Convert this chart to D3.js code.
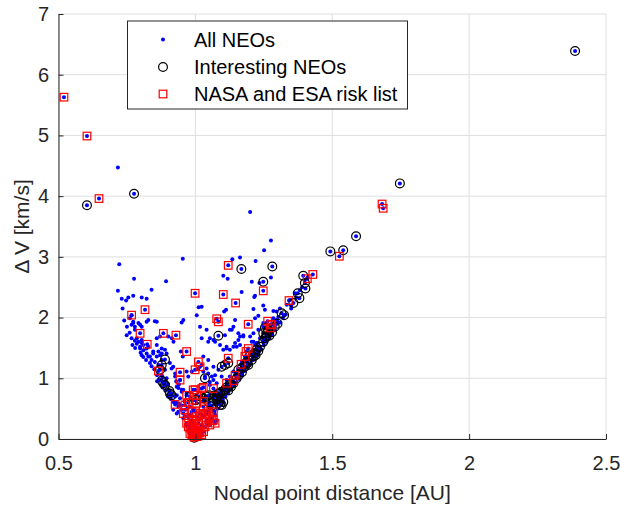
<!doctype html>
<html>
  <head>
    <title>NEO nodal distance</title>
    <script src="https://d3js.org/d3.v7.min.js"></script>
    <style>
        body {
            margin: 0;
            padding: 0;
            background: #ffffff;
        }
        svg {
            font-family: "Liberation Sans", Arial, Helvetica, sans-serif;
        }
        .tick text {
            fill: #262626;
            font-size: 20px;
        }
        .axisLabel {
            fill: #262626;
            font-size: 21px;
        }
        .legendText {
            fill: #000000;
            font-size: 20px;
        }
    </style>
  </head>
  <body>
    <div id="chart"></div>
    <script>

        /*
        Data: [nodal point distance AU, delta V km/s]
        */
        var xTicks = [0.5, 1, 1.5, 2, 2.5];
        var yTicks = [0, 1, 2, 3, 4, 5, 6, 7];
        var legendLabels = ["All NEOs", "Interesting NEOs", "NASA and ESA risk list"];

        // NEOs that are in neither of the other two lists
        var otherNeos = [
            [0.717,4.47],[1.200,3.74],[1.276,3.27],[1.251,3.11],[0.954,2.97],[1.135,2.96],[1.163,2.99],
            [1.220,2.93],[1.102,2.69],[1.118,2.64],[1.206,2.59],[1.234,2.57],[1.276,2.66],[1.169,2.42],
            [1.215,2.34],[0.722,2.88],[0.776,2.64],[0.893,2.60],[0.717,2.44],[0.840,2.46],[0.731,2.31],
            [0.755,2.33],[0.773,2.36],[0.804,2.33],[0.822,2.31],[0.747,2.28],[1.285,1.99],[1.297,1.96],
            [1.303,2.01],[1.218,2.36],[1.023,2.18],[1.112,2.13],[1.212,2.14],[1.248,2.20],[1.254,2.13],
            [1.285,2.11],[1.005,2.04],[1.145,1.96],[1.218,1.99],[1.230,2.03],[1.248,1.91],[1.053,1.66],
            [1.072,1.60],[1.108,1.71],[1.126,1.80],[1.139,1.85],[1.157,1.74],[1.163,1.69],[1.175,1.71],
            [1.145,1.58],[1.151,1.52],[1.163,1.55],[1.206,1.60],[1.218,1.55],[1.228,1.58],[1.236,1.66],
            [1.245,1.67],[1.047,1.08],[1.060,1.03],[1.072,1.05],[1.066,0.97],[1.078,0.92],[1.053,0.89],
            [0.987,1.11],[1.011,1.16],[1.029,1.11],[1.023,1.22],[0.734,2.15],[0.761,1.99],[0.773,1.93],
            [0.767,1.88],[0.779,1.85],[0.828,1.96],[0.852,1.94],[0.798,1.88],[0.956,1.96],[0.786,1.66],
            [0.792,1.60],[0.804,1.63],[0.810,1.55],[0.822,1.49],[0.798,1.49],[0.859,1.66],[0.871,1.69],
            [0.901,1.69],[0.859,1.55],[0.877,1.49],[0.889,1.47],[0.914,1.66],[0.920,1.60],[0.828,1.36],
            [0.840,1.30],[0.834,1.25],[0.852,1.27],[0.865,1.22],[0.877,1.05],[0.895,1.00],[0.889,1.14],
            [0.907,1.25],[0.919,1.19],[0.926,1.03],[0.938,0.84],[0.950,0.78],[0.932,0.72],[0.919,0.48],
            [0.938,0.45],[0.956,0.34],[0.944,0.67],[0.968,0.23],[0.947,1.44],[0.954,1.36],[0.968,1.11],
            [0.974,1.03],[0.846,1.41],[0.865,1.44],[0.877,1.41],[0.859,1.36],[0.749,1.71],[0.767,1.66],
            [0.779,1.62],[0.786,1.57],[0.798,1.52],[0.810,1.46],[0.822,1.41],[0.804,1.38],[0.834,1.36],
            [0.950,1.92],[1.012,2.17],[1.017,1.85],[1.041,1.80],[1.066,1.63],[1.047,1.60],[1.023,1.66],
            [1.090,1.55],[1.102,1.47],[1.114,1.49],[1.126,1.47],[1.139,1.52],[1.157,1.63],[1.175,1.69],
            [1.200,1.69],[1.212,1.74],[1.230,1.80],[1.248,1.85],[1.260,1.91],[1.212,1.60],[1.224,1.58],
            [1.297,2.10],[1.309,2.15],[1.334,2.21],[1.346,2.29],[1.364,2.40],[1.382,2.45],[1.212,1.47],
            [1.200,1.41],[1.188,1.36],[1.181,1.30],[1.169,1.22],[1.157,1.16],[1.139,1.11],[1.126,1.03],
            [1.114,0.97],[1.102,0.86],[1.090,0.81],[1.078,0.72],[1.066,0.67],[1.029,1.36],[1.047,1.30],
            [1.066,1.19],[1.084,1.14],[1.041,1.16],[1.096,1.03],[1.053,0.94],[1.035,1.03],[0.901,0.81],
            [0.913,0.75],[0.926,0.70],[0.932,0.86],[0.950,0.81],[0.968,0.75],[0.919,0.61],[0.938,0.53],
            [0.950,0.48],[0.962,0.37],[0.932,0.42],[0.974,0.37],[0.980,0.53],[0.992,0.48],[1.005,0.37],
            [1.017,0.34],[1.029,0.37],[1.041,0.31],[1.053,0.37],[1.072,0.40],[1.078,0.31],[0.987,0.26],
            [1.041,0.23],[1.27,1.75],[1.29,1.87],[1.30,1.93],[1.32,2.00],[1.35,2.20],[1.37,2.33],
            [1.39,2.50],[1.40,2.62],[1.41,2.66],[1.13,0.95],[1.15,1.08],[1.17,1.27],[1.19,1.32],
            [1.21,1.43],[1.23,1.52],[1.25,1.63],[1.27,1.71],[1.28,1.77],[1.10,0.72],[1.12,0.83],
            [1.08,0.62],[1.06,0.52],[1.05,0.55],[1.07,0.58],[0.767,2.04],[0.773,1.91],[0.779,1.80],
            [0.792,1.91],[0.804,1.85],[0.822,1.93],[0.859,1.93],[0.804,1.58],[0.828,1.52],[0.846,1.44],
            [0.871,1.38],[0.877,1.30],[0.895,1.41],[0.913,1.16],[0.926,1.08],[0.944,0.97],[0.956,0.81],
            [1.105,2.10],[1.133,1.80],[1.114,1.52],
            // dense lower band of the right arm
            [1.06,0.35],[1.07,0.45],[1.08,0.50],[1.09,0.60],[1.10,0.65],[1.11,0.70],[1.12,0.76],
            [1.13,0.82],[1.14,0.88],[1.15,0.93],[1.16,0.99],[1.17,1.05],[1.18,1.12],[1.19,1.18],
            [1.20,1.24],[1.21,1.30],[1.22,1.36],[1.23,1.42],[1.24,1.48],[1.25,1.55],[1.26,1.60],
            [1.27,1.66],[1.28,1.72],[1.29,1.80],[1.31,1.92],[1.33,2.05],[1.35,2.15],[1.09,0.70],
            [1.11,0.80],[1.13,0.92],[1.15,1.02],[1.17,1.15],[1.19,1.26],[1.21,1.38],[1.23,1.48],
            [1.25,1.60],[1.27,1.72],
            // dense part of the left arm
            [0.86,1.05],[0.87,0.98],[0.88,1.02],[0.89,0.95],[0.90,0.90],[0.90,0.70],[0.91,0.66],
            [0.92,0.62],[0.93,0.60],[0.94,0.58],[0.95,0.55],[0.93,0.95],[0.94,0.90],[0.96,0.62],
            [0.97,0.50],[0.98,0.40],[0.85,1.15],[0.84,1.20],[0.82,1.30],[0.81,1.35],[0.80,1.42],
            [0.78,1.50],[0.77,1.55],[0.76,1.75],[0.75,1.85],[0.74,1.95],[0.86,0.95],[0.88,0.85],
            [0.89,0.80]
        ];

        var interestingNeos = [
            [0.604,3.85],[0.776,4.04],[2.387,6.39],[1.747,4.21],[1.587,3.34],[1.493,3.09],[1.540,3.11],
            [1.281,2.84],[1.168,2.80],[1.248,2.59],[1.394,2.69],[1.400,2.57],[1.402,2.48],[1.374,2.40],
            [1.380,2.32],[1.358,2.24],[1.324,2.04],[1.315,2.07],[1.254,1.83],[1.266,1.80],[1.260,1.74],
            [1.084,1.70],[1.224,1.47],[1.236,1.52],[1.248,1.60],[1.254,1.66],[1.260,1.69],[1.200,1.38],
            [1.206,1.30],[1.218,1.41],[1.212,1.36],[1.188,1.27],[1.193,1.22],[1.181,1.19],[1.169,1.17],
            [1.157,1.14],[1.120,1.25],[1.108,1.22],[1.096,1.19],[1.151,1.00],[1.139,0.92],[1.126,0.89],
            [1.114,0.85],[1.108,0.81],[1.096,0.78],[1.084,0.75],[1.078,0.70],[1.072,0.72],[1.102,0.61],
            [1.090,0.56],[1.035,1.00],[0.889,1.31],[0.877,1.22],[0.871,1.14],[0.877,0.96],[0.883,0.92],
            [0.889,0.89],[0.907,0.75],[0.913,0.72],[0.905,0.79],[0.996,0.02],[1.041,0.70],[1.066,0.67],
            [1.084,0.59],[1.096,0.56],[1.090,0.75],[1.017,0.70],[1.029,0.67],[1.248,1.74],
            [1.06,0.55],[1.08,0.65],[1.12,0.80],[1.13,0.86],[1.16,1.06],[1.17,1.10],[1.19,1.25],
            [1.22,1.38],[1.23,1.45],[1.27,1.70],[1.28,1.76],[1.29,1.85],[1.30,1.90],[1.05,0.60],
            [0.98,0.70],[1.00,0.64],[1.05,0.72]
        ];

        var riskListNeos = [
            [0.520,5.63],[0.604,4.99],[0.648,3.96],[1.682,3.87],[1.686,3.80],[1.526,3.01],[1.429,2.71],
            [1.409,2.64],[1.342,2.28],[1.279,1.88],[1.120,2.86],[0.999,2.40],[1.102,2.38],[1.147,2.24],
            [1.248,2.44],[1.078,1.98],[1.084,1.93],[1.193,1.89],[1.264,1.94],[1.276,1.89],[1.273,1.83],
            [1.193,1.49],[1.185,1.44],[1.181,1.36],[1.120,1.33],[1.167,1.23],[1.145,1.05],[1.139,0.96],
            [1.114,0.92],[1.011,1.27],[1.017,1.19],[0.999,1.14],[0.968,1.44],[0.816,2.13],[0.767,2.04],
            [0.798,1.74],[0.883,1.74],[0.929,1.71],[0.824,1.56],[0.865,1.12],[0.944,1.10],[0.944,0.97],
            [0.926,0.57],[0.968,0.72],[0.962,0.56],[0.956,0.42],[0.974,0.60],[0.987,0.45],[0.999,0.81],
            [1.029,0.85],[1.005,0.59],[1.029,0.53],[1.047,0.45],[1.066,0.45],[1.017,0.42],[1.035,0.40],
            [1.061,0.30],[0.974,0.20],[0.987,0.15],[1.005,0.12],[1.017,0.10],[0.992,0.29],[1.011,0.26],
            [1.023,0.23],[0.980,0.09],[0.999,0.07],[1.066,0.83],[0.962,0.48],[0.992,0.64],[1.005,0.72],
            [0.992,0.81],[1.023,0.83],[1.023,0.40],[1.041,0.42],[1.053,0.37],[1.066,0.31],[1.005,0.37],
            [0.987,0.31],[0.968,0.26],[0.980,0.18],[0.999,0.15],[1.017,0.18],[1.035,0.20],[1.053,0.23],
            [1.072,0.26],[0.987,0.07],[1.005,0.04],[1.023,0.07],[0.992,0.12],
            [0.995,0.03],[1.010,0.05],[0.990,0.10],[1.010,0.13],[1.000,0.20],[0.985,0.22],[1.030,0.12],
            [1.040,0.28],[1.050,0.33],[0.975,0.35],[1.000,0.45],[1.030,0.62]
        ];

        /*
        Layout
        */
        var width = 620;
        var height = 506;
        var plotLeft = 58.5, plotRight = 606, plotTop = 14, plotBottom = 439;

        var svg = d3.select("#chart")
            .append("svg")
            .attr("width", width)
            .attr("height", height);

        var x = d3.scaleLinear().domain([0.5, 2.5]).range([plotLeft, plotRight]);
        var y = d3.scaleLinear().domain([0, 7]).range([plotBottom, plotTop]);

        // grid
        svg.append("g").selectAll("line")
            .data(xTicks)
            .enter()
            .append("line")
            .attr("x1", (d) => x(d)).attr("x2", (d) => x(d))
            .attr("y1", plotTop).attr("y2", plotBottom)
            .attr("stroke", "#dfdfdf");

        svg.append("g").selectAll("line")
            .data(yTicks)
            .enter()
            .append("line")
            .attr("x1", plotLeft).attr("x2", plotRight)
            .attr("y1", (d) => y(d)).attr("y2", (d) => y(d))
            .attr("stroke", "#dfdfdf");

        /*
        Markers: all NEOs (dots), then interesting (circles), then risk list (squares)
        */
        var allNeos = otherNeos.concat(interestingNeos, riskListNeos);

        svg.append("g").selectAll("circle")
            .data(allNeos)
            .enter()
            .append("circle")
            .attr("cx", (d) => x(d[0]))
            .attr("cy", (d) => y(d[1]))
            .attr("r", 2)
            .attr("fill", "#0000ff");

        svg.append("g").selectAll("circle")
            .data(interestingNeos)
            .enter()
            .append("circle")
            .attr("cx", (d) => x(d[0]))
            .attr("cy", (d) => y(d[1]))
            .attr("r", 4.4)
            .attr("fill", "none")
            .attr("stroke", "#000000")
            .attr("stroke-width", 1.2);

        var sq = 7.6;
        svg.append("g").selectAll("rect")
            .data(riskListNeos)
            .enter()
            .append("rect")
            .attr("x", (d) => x(d[0]) - sq / 2)
            .attr("y", (d) => y(d[1]) - sq / 2)
            .attr("width", sq)
            .attr("height", sq)
            .attr("fill", "none")
            .attr("stroke", "#ff0000")
            .attr("stroke-width", 1.2);

        /*
        Axes (ticks pointing inward)
        */
        svg.append("g")
            .attr("transform", "translate(0," + plotBottom + ")")
            .call(d3.axisBottom(x).tickValues(xTicks).tickFormat(d3.format("~g"))
                .tickSizeInner(-5).tickSizeOuter(0).tickPadding(17));

        svg.append("g")
            .attr("transform", "translate(" + plotLeft + ",0)")
            .call(d3.axisLeft(y).tickValues(yTicks).tickFormat(d3.format("~g"))
                .tickSizeInner(-5).tickSizeOuter(0).tickPadding(9.5));

        svg.selectAll(".domain, .tick line").attr("stroke", "#262626");
        svg.selectAll(".tick text").attr("font-family", null).attr("font-size", null);

        svg.append("text")
            .attr("class", "axisLabel")
            .attr("x", (plotLeft + plotRight) / 2)
            .attr("y", 500)
            .attr("text-anchor", "middle")
            .text("Nodal point distance [AU]");

        svg.append("text")
            .attr("class", "axisLabel")
            .attr("transform", "translate(29," + (plotTop + plotBottom) / 2 + ") rotate(-90)")
            .attr("text-anchor", "middle")
            .text("Δ V [km/s]");

        /*
        Legend
        */
        var legend = svg.append("g");
        legend.append("rect")
            .attr("x", 127.5).attr("y", 21)
            .attr("width", 280).attr("height", 88)
            .attr("fill", "#ffffff")
            .attr("stroke", "#262626")
            .attr("stroke-width", 1);

        var rowY = [39.5, 67, 94];
        var mx = 163;

        legend.append("circle")
            .attr("cx", mx).attr("cy", rowY[0]).attr("r", 2).attr("fill", "#0000ff");
        legend.append("circle")
            .attr("cx", mx).attr("cy", rowY[1]).attr("r", 4.4)
            .attr("fill", "none").attr("stroke", "#000000").attr("stroke-width", 1.2);
        legend.append("rect")
            .attr("x", mx - sq / 2).attr("y", rowY[2] - sq / 2)
            .attr("width", sq).attr("height", sq)
            .attr("fill", "none").attr("stroke", "#ff0000").attr("stroke-width", 1.2);

        legend.selectAll("text")
            .data(legendLabels)
            .enter()
            .append("text")
            .attr("class", "legendText")
            .attr("x", 194)
            .attr("y", (d, i) => rowY[i])
            .attr("dy", "0.36em")
            .text((d) => d);

    </script>
  </body>
</html>
